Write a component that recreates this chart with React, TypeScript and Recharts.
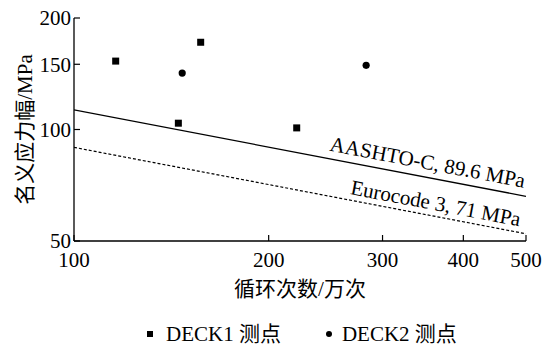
import { ComposedChart, Scatter, Line, XAxis, YAxis, Legend, LabelList } from 'recharts'

const xTicks = [100, 200, 300, 400, 500]
const yTicks = [50, 100, 150, 200]

// DECK1 测点
const deck1Cycles = [116, 157, 145, 221]
const deck1Stress = [153, 172, 104, 101]
// DECK2 测点
const deck2Cycles = [147, 283]
const deck2Stress = [142, 149]
// design S-N curves (ends of the plotted range)
const curveCycles = [100, 500]
const aashtoStress = [113, 66]
const eurocodeStress = [89.5, 52.3]

const deck1 = deck1Cycles.map((x, i) => ({ x, y: deck1Stress[i] }))
const deck2 = deck2Cycles.map((x, i) => ({ x, y: deck2Stress[i] }))
const aashto = curveCycles.map((x, i) => ({ x, y: aashtoStress[i] }))
const eurocode = curveCycles.map((x, i) => ({ x, y: eurocodeStress[i] }))

const FONT = '"Liberation Serif", "Times New Roman", Times, "DejaVu Serif", "Noto Sans CJK SC", serif'
const tickStyle = { fill: '#000', fontSize: 21, fontFamily: FONT }

const squareDot = (p: any) => <rect x={p.cx - 3.5} y={p.cy - 3.5} width={7} height={7} fill="#000" />
const roundDot = (p: any) => <circle cx={p.cx} cy={p.cy} r={3.6} fill="#000" />

const curveLabel = (text: string, dx: number, dy: number) => (p: any) => {
  if (p.index !== 1) return null
  const x = Number(p.x)
  const y = Number(p.y)
  return (
    <text x={x + dx} y={y + dy} textAnchor="end" fontSize={21} fill="#000"
      style={{ fontFamily: FONT }} transform={`rotate(10.8 ${x} ${y})`}>
      {text}
    </text>
  )
}

function LegendBox() {
  return (
    <div style={{ display: 'flex', alignItems: 'center', height: 20, lineHeight: '20px', paddingLeft: 147, fontFamily: FONT, fontSize: 21, color: '#000' }}>
      <svg width={6} height={6} style={{ marginRight: 13 }}><rect width={6} height={6} fill="#000" /></svg>
      <span style={{ marginRight: 45 }}>DECK1 测点</span>
      <svg width={6} height={6} style={{ marginRight: 10 }}><circle cx={3} cy={3} r={3} fill="#000" /></svg>
      <span>DECK2 测点</span>
    </div>
  )
}

export default function App() {
  return (
    <div style={{ position: 'absolute', left: 0, top: 0, background: '#fff', fontFamily: FONT }}>
      <ComposedChart width={548} height={344} margin={{ top: 18, right: 22, bottom: 0, left: 0 }}>
        <XAxis dataKey="x" type="number" scale="log" domain={[100, 500]} ticks={xTicks} interval={0}
          allowDataOverflow height={83} tickSize={-6} tickMargin={17} tick={tickStyle}
          axisLine={{ stroke: '#000', strokeWidth: 1.3 }} tickLine={{ stroke: '#000', strokeWidth: 1.2 }}
          label={{ value: '循环次数/万次', position: 'insideTop', offset: 40, fill: '#000', fontSize: 21, style: { fontFamily: FONT } }} />
        <YAxis dataKey="y" type="number" scale="log" domain={[50, 200]} ticks={yTicks} interval={0}
          allowDataOverflow width={74} tickSize={-6} tickMargin={9} tick={tickStyle}
          axisLine={{ stroke: '#000', strokeWidth: 1.3 }} tickLine={{ stroke: '#000', strokeWidth: 1.2 }}
          label={{ value: '名义应力幅/MPa', angle: -90, position: 'insideLeft', offset: 25, fill: '#000', fontSize: 21, style: { textAnchor: 'middle', fontFamily: FONT } }} />
        <Line data={aashto} dataKey="y" stroke="#000" strokeWidth={1.3} dot={false} isAnimationActive={false} legendType="none">
          <LabelList dataKey="y" content={curveLabel('AASHTO-C, 89.6 MPa', -4, -8)} />
        </Line>
        <Line data={eurocode} dataKey="y" stroke="#000" strokeWidth={1.2} strokeDasharray="3 2" dot={false} isAnimationActive={false} legendType="none">
          <LabelList dataKey="y" content={curveLabel('Eurocode 3, 71 MPa', -8, -6)} />
        </Line>
        <Scatter name="DECK1 测点" data={deck1} shape={squareDot} isAnimationActive={false} />
        <Scatter name="DECK2 测点" data={deck2} shape={roundDot} isAnimationActive={false} />
        <Legend verticalAlign="bottom" content={() => <LegendBox />} />
      </ComposedChart>
    </div>
  )
}
